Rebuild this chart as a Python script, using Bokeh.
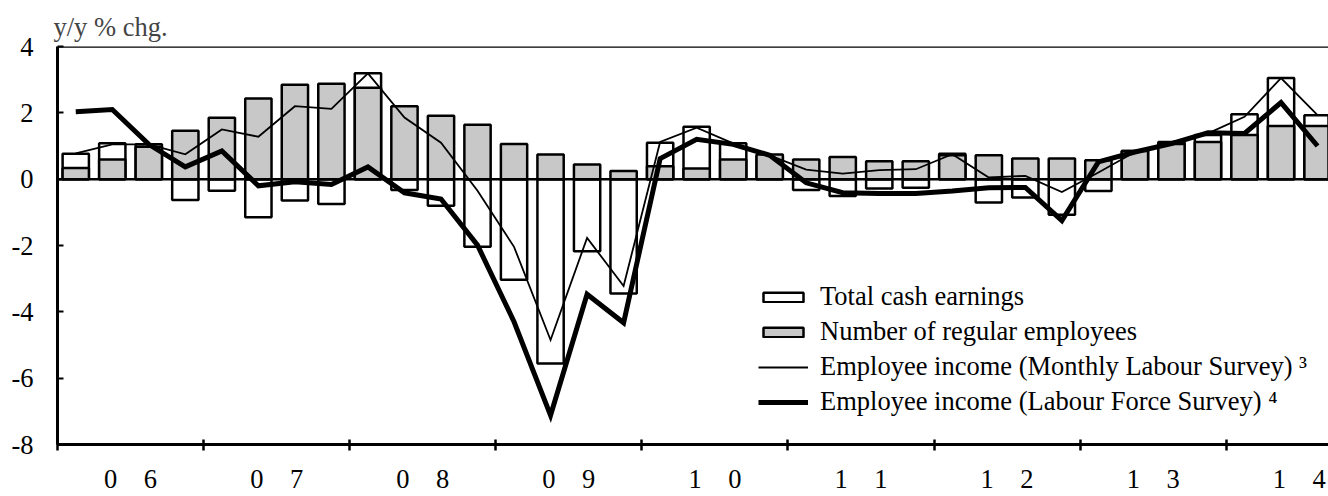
import numpy as np
from bokeh.plotting import figure
from bokeh.models import (Range1d, FixedTicker, Span, Legend, LegendItem,
                          ColumnDataSource)
from bokeh.embed import file_html
from bokeh.resources import INLINE

# ---- data (quarterly, 2006Q1 - 2014Q3), y/y % chg. ----
quarters = [f"{y:02d}Q{q}" for y in range(6, 15) for q in range(1, 5)][:35]

total_cash = [0.77, 1.08, 1.05, -0.63, -0.35, -1.15, -0.64, -0.75,
              3.19, -0.33, -0.80, -2.04, -3.03, -5.56, -2.17, -3.45,
              1.10, 1.58, 1.08, 0.70, -0.33, -0.51, -0.28, -0.26,
              0.77, -0.70, -0.55, -1.07, -0.36, 0.85, 1.12, 1.33,
              1.96, 3.05, 1.93]
regular_emp = [0.34, 0.59, 0.98, 1.46, 1.85, 2.43, 2.85, 2.88,
               2.76, 2.20, 1.91, 1.64, 1.06, 0.74, 0.44, 0.25,
               0.39, 0.32, 0.59, 0.74, 0.59, 0.67, 0.54, 0.54,
               0.72, 0.72, 0.62, 0.62, 0.57, 0.85, 1.06, 1.12,
               1.33, 1.60, 1.60]
income_mls = [0.78, 1.05, 1.05, 0.75, 1.50, 1.28, 2.20, 2.12,
              3.19, 1.86, 1.10, -0.35, -2.04, -4.85, -1.77, -3.22,
              1.12, 1.55, 1.08, 0.72, 0.29, 0.17, 0.27, 0.30,
              0.75, 0.05, 0.10, -0.39, 0.20, 0.82, 1.12, 1.38,
              1.88, 3.05, 1.93]
income_lfs = [2.03, 2.10, 1.05, 0.37, 0.85, -0.20, -0.08, -0.16,
              0.37, -0.41, -0.60, -1.99, -4.30, -7.12, -3.47, -4.33,
              0.62, 1.20, 1.05, 0.72, -0.11, -0.41, -0.43, -0.43,
              -0.36, -0.26, -0.25, -1.25, 0.52, 0.82, 1.07, 1.40,
              1.38, 2.31, 1.00]

years = ["06", "07", "08", "09", "10", "11", "12", "13", "14"]
y_ticks = [-8, -6, -4, -2, 0, 2, 4]

x = np.arange(len(quarters)) + 0.5
src = ColumnDataSource(dict(x=x, tce=total_cash, emp=regular_emp,
                            mls=income_mls, lfs=income_lfs))

FONT = "Liberation Serif"
FS = "26.5px"
NB = "\u00a0"

p = figure(width=1328, height=496,
           x_range=Range1d(0, 34.80), y_range=Range1d(-8, 4),
           output_backend="svg", toolbar_location=None,
           min_border_left=57, min_border_right=0,
           min_border_top=46, min_border_bottom=52)
p.outline_line_color = None
p.grid.visible = False
p.background_fill_color = "white"
p.border_fill_color = "white"

p.title.text = "y/y % chg."
p.title.text_font = FONT
p.title.text_font_size = FS
p.title.text_font_style = "normal"
p.title.align = "left"
p.title.offset = -4
p.title.standoff = 9

r_tce = p.vbar(x="x", top="tce", bottom=0, width=0.72, source=src,
               fill_color="white", line_color="black", line_width=2.5)
r_emp = p.vbar(x="x", top="emp", bottom=0, width=0.72, source=src,
               fill_color="#c8c8c8", line_color="black", line_width=2.5)

p.add_layout(Span(location=0, dimension="width", line_color="black",
                  line_width=2.5))
p.add_layout(Span(location=4, dimension="width", line_color="black",
                  line_width=2.5))

r_mls = p.line("x", "mls", source=src, line_color="black", line_width=1.8,
               line_join="miter")
r_lfs = p.line("x", "lfs", source=src, line_color="black", line_width=5,
               line_join="miter")

# x axis: year boundaries as ticks, labels centred within the year
xa = p.xaxis[0]
xa.ticker = FixedTicker(ticks=[4 * i + 2 for i in range(len(years))],
                        minor_ticks=[4 * i for i in range(len(years))])
xa.major_label_overrides = {4 * i + 2: y[0] + NB * 4 + y[1]
                            for i, y in enumerate(years)}
xa.major_tick_in = 0
xa.major_tick_out = 0
xa.minor_tick_in = 5
xa.minor_tick_out = 6
xa.minor_tick_line_width = 2.5
xa.minor_tick_line_color = "black"
xa.axis_line_width = 3
xa.axis_line_color = "black"
xa.major_label_standoff = 13
xa.major_label_text_font = FONT
xa.major_label_text_font_size = FS
xa.major_label_text_color = "black"

ya = p.yaxis[0]
ya.ticker = FixedTicker(ticks=y_ticks, minor_ticks=[])
ya.major_label_overrides = {t: str(t) for t in y_ticks}
ya.major_tick_in = 6
ya.major_tick_out = 0
ya.major_tick_line_width = 2
ya.major_tick_line_color = "black"
ya.minor_tick_in = 0
ya.minor_tick_out = 0
ya.axis_line_width = 3
ya.axis_line_color = "black"
ya.major_label_standoff = 24
ya.major_label_text_font = FONT
ya.major_label_text_font_size = FS
ya.major_label_text_color = "black"

legend = Legend(items=[
    LegendItem(label="Total cash earnings", renderers=[r_tce]),
    LegendItem(label="Number of regular employees", renderers=[r_emp]),
    LegendItem(label="Employee income (Monthly Labour Survey) \u00b3", renderers=[r_mls]),
    LegendItem(label="Employee income (Labour Force Survey) \u2074", renderers=[r_lfs]),
], location=(701, 27), orientation="vertical",
    border_line_color=None, background_fill_alpha=0,
    padding=0, margin=0, spacing=4,
    glyph_width=50, glyph_height=12, label_standoff=12,
    label_height=25, label_text_font=FONT, label_text_font_size=FS,
    label_text_color="black")
p.add_layout(legend)

open("out.html", "w").write(file_html(p, INLINE))
